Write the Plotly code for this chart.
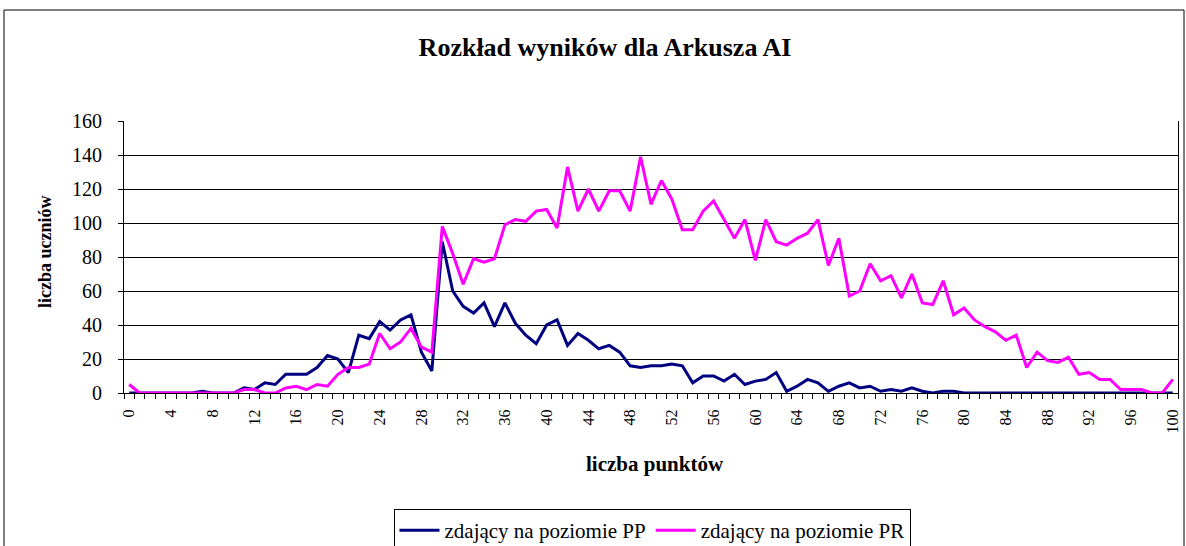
import plotly.graph_objects as go

points = list(range(0, 101))

pp = [0, 0, 0, 0, 0, 0, 0, 1, 0, 0,
      0, 3, 2, 6, 5, 11, 11, 11, 15, 22,
      20, 12, 34, 32, 42, 37, 43, 46, 24, 13,
      89, 60, 51, 47, 53, 39, 53, 41, 34, 29,
      40, 43, 28, 35, 31, 26, 28, 24, 16, 15,
      16, 16, 17, 16, 6, 10, 10, 7, 11, 5,
      7, 8, 12, 1, 4, 8, 6, 1, 4, 6,
      3, 4, 1, 2, 1, 3, 1, 0, 1, 1,
      0, 0, 0, 0, 0, 0, 0, 0, 0, 0,
      0, 0, 0, 0, 0, 0, 0, 0, 0, 0, 0]

pr = [5, 0, 0, 0, 0, 0, 0, 0, 0, 0,
      0, 2, 2, 0, 0, 3, 4, 2, 5, 4,
      11, 15, 15, 17, 35, 26, 30, 38, 27, 24,
      98, 82, 64, 79, 77, 79, 99, 102, 101, 107,
      108, 97, 133, 107, 120, 107, 119, 119, 107, 139,
      111, 125, 114, 96, 96, 107, 113, 102, 91, 102,
      78, 102, 89, 87, 91, 94, 102, 75, 91, 57,
      60, 76, 66, 69, 56, 70, 53, 52, 66, 46,
      50, 43, 39, 36, 31, 34, 15, 24, 19, 18,
      21, 11, 12, 8, 8, 2, 2, 2, 0, 0, 8]

x_ticks = list(range(0, 101, 4))
y_ticks = list(range(0, 161, 20))

FONT = "'Liberation Serif', 'Times New Roman', Times, serif"

fig = go.Figure()
fig.add_trace(go.Scatter(x=points, y=pp, mode="lines", name="zdający na poziomie PP",
                         line=dict(color="#000080", width=3)))
fig.add_trace(go.Scatter(x=points, y=pr, mode="lines", name="zdający na poziomie PR",
                         line=dict(color="#FF00FF", width=3)))

W, H = 1186, 546
ml, mr, mt, mb = 124, 8, 121, 153
pw = W - ml - mr
ph = H - mt - mb

def px_x(px):
    return (px - ml) / pw

def px_y(py):
    return (H - mb - py) / ph

fig.update_layout(
    width=W, height=H,
    margin=dict(l=ml, r=mr, t=mt, b=mb, autoexpand=False),
    paper_bgcolor="white", plot_bgcolor="white",
    font=dict(family=FONT, color="black", size=16),
    title=dict(text="<b>Rozkład wyników dla Arkusza AI</b>", x=605 / W, xref="container",
               y=1 - 47 / H, yref="container", xanchor="center", yanchor="middle",
               font=dict(family=FONT, size=26, color="black")),
    showlegend=True,
    legend=dict(orientation="h", x=px_x(652), y=px_y(509), xanchor="center", yanchor="top",
                bordercolor="black", borderwidth=1, bgcolor="white",
                font=dict(family=FONT, size=21, color="black"),
                itemwidth=40, tracegroupgap=0),
    xaxis=dict(range=[-0.5, 100.5], tickmode="array", tickvals=x_ticks,
               ticktext=[str(v) for v in x_ticks], tickangle=-90,
               ticks="", showgrid=False, zeroline=False,
               showline=True, linecolor="black", linewidth=1,
               ticklabelstandoff=9, ticklabeloverflow="allow",
               tickfont=dict(family=FONT, size=16),
               minor=dict(tickmode="linear", tick0=0.5, dtick=1, ticks="outside",
                          ticklen=5, tickcolor="black", showgrid=False)),
    yaxis=dict(range=[0, 160], tickmode="array", tickvals=y_ticks,
               ticks="outside", ticklen=5, tickcolor="black",
               ticklabelstandoff=12,
               showgrid=True, gridcolor="black", gridwidth=1, zeroline=False,
               showline=True, linecolor="black", linewidth=1, mirror=True,
               tickfont=dict(family=FONT, size=20)),
    annotations=[
        dict(text="<b>liczba uczniów</b>", x=px_x(45), y=px_y(252), xref="paper", yref="paper",
             showarrow=False, textangle=-90, font=dict(family=FONT, size=18),
             xanchor="center", yanchor="middle"),
        dict(text="<b>liczba punktów</b>", x=px_x(655), y=px_y(464), xref="paper", yref="paper",
             showarrow=False, font=dict(family=FONT, size=21),
             xanchor="center", yanchor="middle"),
    ],
    shapes=[
        dict(type="rect", xref="paper", yref="paper",
             x0=px_x(4), x1=px_x(1184), y0=px_y(560), y1=px_y(10),
             line=dict(color="black", width=1), fillcolor="rgba(0,0,0,0)", layer="below"),
    ],
)

fig.write_html("out.html",
               config={"displayModeBar": False},
               post_script="document.body.style.margin='0px';document.body.style.overflow='hidden';")
